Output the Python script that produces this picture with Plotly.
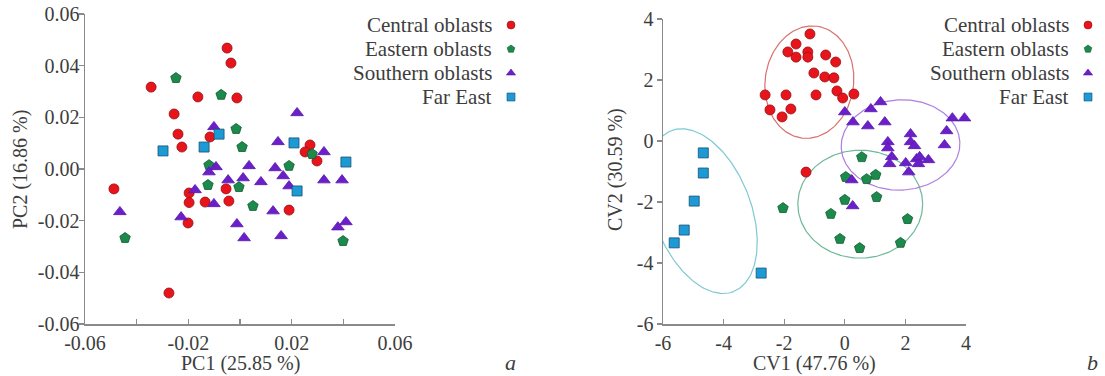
import numpy as np
import plotly.graph_objects as go

W, H = 1105, 376
FONT = "Liberation Serif, Times New Roman, serif"
TXT = "#3d3d3d"

groups = ["Central oblasts", "Eastern oblasts", "Southern oblasts", "Far East"]
symbols = ["circle", "pentagon", "triangle-up", "square"]
fills = ["#e8141c", "#1b8a4c", "#6a1fc8", "#1c9ad6"]
edges = ["#9a0c10", "#0f5a30", "#5a18b0", "#1a4f70"]
ell_colors = ["#d9706c", "#6fb898", "#b07ee0", "#7ec8d4"]

# ---- panel a: PCA ----
central_pc1 = [-0.0488, -0.0344, -0.0255, -0.0240, -0.0225, -0.0163, -0.0116, -0.0050, -0.0035, -0.0012,
               -0.0197, -0.0197, -0.0135, -0.0054, -0.0043, -0.0201, -0.0275, 0.0190, 0.0271, 0.0252, 0.0298]
central_pc2 = [-0.0077, 0.0317, 0.0213, 0.0135, 0.0085, 0.0279, 0.0124, 0.0468, 0.0410, 0.0275,
               -0.0093, -0.0130, -0.0128, -0.0077, -0.0124, -0.0209, -0.0480, -0.0159, 0.0093, 0.0066, 0.0031]
eastern_pc1 = [-0.0248, -0.0073, -0.0015, 0.0008, -0.0120, 0.0190, -0.0124, -0.0004, 0.0050, -0.0445, 0.0279, 0.0399]
eastern_pc2 = [0.0352, 0.0287, 0.0155, 0.0085, 0.0015, 0.0012, -0.0062, -0.0070, -0.0143, -0.0267, 0.0058, -0.0279]
southern_pc1 = [-0.0465, -0.0228, -0.0174, -0.0101, -0.0093, -0.0120, -0.0101, -0.0046, 0.0012, 0.0035,
                0.0081, -0.0012, 0.0016, 0.0147, 0.0136, 0.0167, 0.0190, 0.0221, 0.0325, 0.0325,
                0.0395, 0.0128, 0.0159, 0.0379, 0.0410]
southern_pc2 = [-0.0166, -0.0186, -0.0081, 0.0163, 0.0008, -0.0012, -0.0135, -0.0043, -0.0035, 0.0012,
                -0.0050, -0.0213, -0.0267, 0.0105, 0.0004, -0.0027, -0.0066, 0.0217, 0.0066, -0.0043,
                -0.0043, -0.0163, -0.0259, -0.0225, -0.0205]
fareast_pc1 = [-0.0298, -0.0139, -0.0081, 0.0209, 0.0410, 0.0221]
fareast_pc2 = [0.0070, 0.0085, 0.0135, 0.0101, 0.0027, -0.0085]

# ---- panel b: CVA ----
central_cv1 = [-1.15, -1.61, -1.88, -1.61, -1.22, -1.22, -0.63, -0.30, -1.02, -0.66, -0.36, -0.26, -0.07,
               0.30, -2.63, -1.94, -0.95, -2.47, -1.78, -2.07, -1.28]
central_cv2 = [3.51, 3.18, 2.92, 2.75, 2.92, 2.75, 2.82, 2.59, 2.23, 2.10, 2.07, 1.64, 1.41,
               1.54, 1.51, 1.51, 1.51, 1.02, 1.05, 0.79, -1.02]
eastern_cv1 = [0.56, 0.03, 0.72, 1.02, 0.00, 1.05, -0.46, -2.04, 2.07, -0.16, 0.49, 1.84]
eastern_cv2 = [-0.53, -1.18, -1.25, -1.11, -1.93, -1.84, -2.39, -2.20, -2.56, -3.21, -3.51, -3.34]
southern_cv1 = [0.00, 0.27, 0.86, 1.18, 0.76, 1.32, 1.42, 1.42, 2.17, 2.17, 2.30, 1.55, 1.48, 2.01, 2.11,
                2.37, 2.47, 2.43, 2.76, 3.29, 3.36, 3.55, 3.95, 0.23, 0.26]
southern_cv2 = [0.95, 0.62, 1.05, 1.28, 0.49, 0.62, -0.03, -0.23, 0.23, -0.03, -0.16, -0.52, -0.75, -0.72, -1.02,
                -0.59, -0.52, -0.75, -0.62, -0.13, 0.33, 0.75, 0.75, -1.28, -2.13]
fareast_cv1 = [-4.67, -4.67, -4.97, -5.30, -5.63, -2.76]
fareast_cv2 = [-0.39, -1.05, -1.97, -2.92, -3.34, -4.33]

# ellipse parameters (center x, center y, semi-major, semi-minor, angle deg)
ell_cx = [-1.17, 0.51, 1.84, -4.70]
ell_cy = [1.93, -2.07, -0.13, -2.30]
ell_a = [1.85, 2.06, 1.96, 2.83]
ell_b = [1.46, 1.77, 1.48, 1.60]
ell_ang = [82, 0, 3, -68.7]

pca = [(central_pc1, central_pc2), (eastern_pc1, eastern_pc2), (southern_pc1, southern_pc2), (fareast_pc1, fareast_pc2)]
cva = [(central_cv1, central_cv2), (eastern_cv1, eastern_cv2), (southern_cv1, southern_cv2), (fareast_cv1, fareast_cv2)]

sizes = [10, 11, 11, 10]

fig = go.Figure()

t = np.linspace(0, 2 * np.pi, 240)
for i in range(4):
    th = np.deg2rad(ell_ang[i])
    ex = ell_cx[i] + ell_a[i] * np.cos(th) * np.cos(t) - ell_b[i] * np.sin(th) * np.sin(t)
    ey = ell_cy[i] + ell_a[i] * np.sin(th) * np.cos(t) + ell_b[i] * np.cos(th) * np.sin(t)
    fig.add_trace(go.Scatter(x=ex, y=ey, mode="lines", line=dict(color=ell_colors[i], width=1.2),
                             xaxis="x2", yaxis="y2", showlegend=False, hoverinfo="skip"))

for i in range(4):
    mk = dict(symbol=symbols[i], size=sizes[i], color=fills[i], line=dict(color=edges[i], width=0.8))
    fig.add_trace(go.Scatter(x=pca[i][0], y=pca[i][1], mode="markers", marker=mk, name=groups[i],
                             xaxis="x", yaxis="y", showlegend=False, cliponaxis=False))
    fig.add_trace(go.Scatter(x=cva[i][0], y=cva[i][1], mode="markers", marker=mk, name=groups[i],
                             xaxis="x2", yaxis="y2", showlegend=False, cliponaxis=False))

# custom legends (text right, symbol at right) on a pixel-space overlay axis
leg_y0, leg_dy = 25, 24
annotations = []
for panel_x in [511, 1088]:
    ly = [leg_y0 + k * leg_dy for k in range(4)]
    for k in range(4):
        fig.add_trace(go.Scatter(x=[panel_x], y=[ly[k]], mode="markers",
                                 marker=dict(symbol=symbols[k], size=8, color=fills[k],
                                             line=dict(color=edges[k], width=0.6)),
                                 xaxis="x3", yaxis="y3", showlegend=False, hoverinfo="skip"))
        annotations.append(dict(x=(panel_x - 17) / W, y=1 - ly[k] / H, xref="paper", yref="paper",
                                text=groups[k], showarrow=False, xanchor="right", yanchor="middle",
                                font=dict(family=FONT, size=21, color=TXT)))

pc_ticks = [-0.06, -0.04, -0.02, 0.0, 0.02, 0.04, 0.06]
pcx_text = [f"{v:.2f}" if k % 2 == 0 else "" for k, v in enumerate(pc_ticks)]
pcy_text = [f"{v:.2f}" for v in pc_ticks]
cvx_ticks = [-6, -4, -2, 0, 2, 4]
cvy_ticks = [-6, -4, -2, 0, 2, 4]

axis_common = dict(showgrid=False, zeroline=False, showline=True, linecolor="#8a8a8a", linewidth=1.5,
                   tickcolor="#8a8a8a", ticklen=5, tickwidth=1.2, automargin=False,
                   tickfont=dict(family=FONT, size=20, color=TXT))

fig.update_layout(
    template="none",
    width=W, height=H, autosize=False,
    font=dict(family=FONT, size=20, color=TXT),
    margin=dict(l=0, r=0, t=0, b=0, pad=0, autoexpand=False),
    paper_bgcolor="white", plot_bgcolor="rgba(0,0,0,0)",
    showlegend=False, hovermode=False,
    xaxis=dict(domain=[85 / W, 395 / W], range=[-0.06, 0.06], tickmode="array", tickvals=pc_ticks,
               ticktext=pcx_text, ticks="inside", anchor="y", **axis_common),
    yaxis=dict(domain=[(H - 324) / H, (H - 14) / H], range=[-0.06, 0.06], tickmode="array", tickvals=pc_ticks,
               ticktext=pcy_text, ticks="outside", anchor="x", ticklabelstandoff=-5, **axis_common),
    xaxis2=dict(domain=[663 / W, 966 / W], range=[-6, 4], tickmode="array", tickvals=cvx_ticks,
                ticktext=[str(v) for v in cvx_ticks], ticks="inside", anchor="y2", **axis_common),
    yaxis2=dict(domain=[(H - 324) / H, (H - 19) / H], range=[-6, 4], tickmode="array", tickvals=cvy_ticks,
                ticktext=[str(v) for v in cvy_ticks], ticks="outside", anchor="x2", ticklabelstandoff=-1,
                **axis_common),
    xaxis3=dict(domain=[0, 1], range=[0, W], visible=False, anchor="y3", automargin=False),
    yaxis3=dict(domain=[0, 1], range=[H, 0], visible=False, anchor="x3", automargin=False),
)

titles = [
    ("PC1 (25.85 %)", 240, 363, 0),
    ("PC2 (16.86 %)", 20, 170, -90),
    ("CV1 (47.76 %)", 814, 363, 0),
    ("CV2 (30.59 %)", 615, 170, -90),
]
for txt, px, py, ang in titles:
    annotations.append(dict(x=px / W, y=1 - py / H, xref="paper", yref="paper", text=txt, showarrow=False,
                            xanchor="center", yanchor="middle", textangle=ang,
                            font=dict(family=FONT, size=20, color=TXT)))
for txt, px in [("a", 510), ("b", 1092)]:
    annotations.append(dict(x=px / W, y=1 - 362 / H, xref="paper", yref="paper", text=f"<i>{txt}</i>",
                            showarrow=False, xanchor="center", yanchor="middle",
                            font=dict(family=FONT, size=22, color=TXT)))

fig.update_layout(annotations=annotations)
fig.write_html("out.html", config={"displayModeBar": False, "staticPlot": True},
               post_script="document.body.style.margin='0px';document.body.style.overflow='hidden';")
